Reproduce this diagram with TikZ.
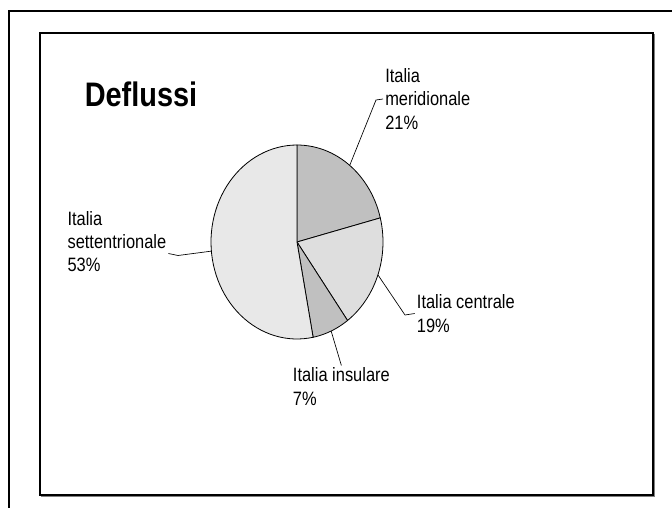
\documentclass[tikz,border=0pt]{standalone}
\usepackage{fontspec}
\setmainfont{Liberation Sans}[FakeStretch=0.85]
\newcommand{\pieX}[0]{297}
\newcommand{\pieY}[0]{242}
\newcommand{\pieRx}[0]{86}
\newcommand{\pieRy}[0]{97}
\newcommand{\leaderWidth}[0]{0.5pt}
\definecolor{sliceDark}{HTML}{C0C0C0}
\definecolor{sliceLight}{HTML}{DEDEDE}
\definecolor{sliceLighter}{HTML}{E8E8E8}

\begin{document}
\begin{tikzpicture}[x=0.75pt, y=-0.75pt]
  \tikzset{pie label/.style={font=\fontsize{14.5}{17.5}\selectfont, align=left, anchor=west, inner sep=1.5pt}}
  \useasboundingbox (0,0) rectangle (672,508);
  % frames
  \draw[line width=0.8pt] (672,11) -- (9,11) -- (9,508);
  \draw[gray, line width=1pt] (41.5,34.5) rectangle (654.5,496.5);
  \draw[line width=0.8pt, fill=white] (40,33) rectangle (653,495);
  \node[font=\fontsize{25.5}{30}\selectfont\bfseries, inner sep=0pt] (title) at (141,94) {Deflussi};
  % slices
  \filldraw[fill=sliceDark, line width=0.6pt] (\pieX,\pieY) -- plot[domain=90:14.4, samples=30] ({\pieX+\pieRx*cos(\x)}, {\pieY-\pieRy*sin(\x)}) -- cycle;
  \filldraw[fill=sliceLight, line width=0.6pt] (\pieX,\pieY) -- plot[domain=14.4:-54, samples=30] ({\pieX+\pieRx*cos(\x)}, {\pieY-\pieRy*sin(\x)}) -- cycle;
  \filldraw[fill=sliceDark, line width=0.6pt] (\pieX,\pieY) -- plot[domain=-54:-79.2, samples=15] ({\pieX+\pieRx*cos(\x)}, {\pieY-\pieRy*sin(\x)}) -- cycle;
  \filldraw[fill=sliceLighter, line width=0.6pt] (\pieX,\pieY) -- plot[domain=-79.2:-270, samples=60] ({\pieX+\pieRx*cos(\x)}, {\pieY-\pieRy*sin(\x)}) -- cycle;
  % labels
  \node[pie label] (lbl-1) at (383,99) {Italia\\meridionale\\21\%};
  \node[pie label] (lbl-2) at (414.7,313.5) {Italia centrale\\19\%};
  \node[pie label] (lbl-3) at (290.7,386.5) {Italia insulare\\7\%};
  \node[pie label] (lbl-4) at (65.3,241.5) {Italia\\settentrionale\\53\%};
  \coordinate (edge-1) at ({\pieX+\pieRx*cos(52.2)}, {\pieY-\pieRy*sin(52.2)});
  \coordinate (edge-2) at ({\pieX+\pieRx*cos(-19.8)}, {\pieY-\pieRy*sin(-19.8)});
  \coordinate (edge-3) at ({\pieX+\pieRx*cos(-66.6)}, {\pieY-\pieRy*sin(-66.6)});
  \coordinate (edge-4) at ({\pieX+\pieRx*cos(-174.6)}, {\pieY-\pieRy*sin(-174.6)});
  \coordinate (bend-1) at (376,100);
  \coordinate (bend-2) at (405,315);
  \coordinate (bend-4) at (178,255.5);
  \draw[line width=\leaderWidth] (edge-1) -- (bend-1) -- (lbl-1.west);
  \draw[line width=\leaderWidth] (edge-2) -- (bend-2) -- (lbl-2.west);
  \draw[line width=\leaderWidth] (edge-3) -- (lbl-3.north);
  \draw[line width=\leaderWidth] (edge-4) -- (bend-4) -- ([yshift=-9pt]lbl-4.east);
\end{tikzpicture}
\end{document}
